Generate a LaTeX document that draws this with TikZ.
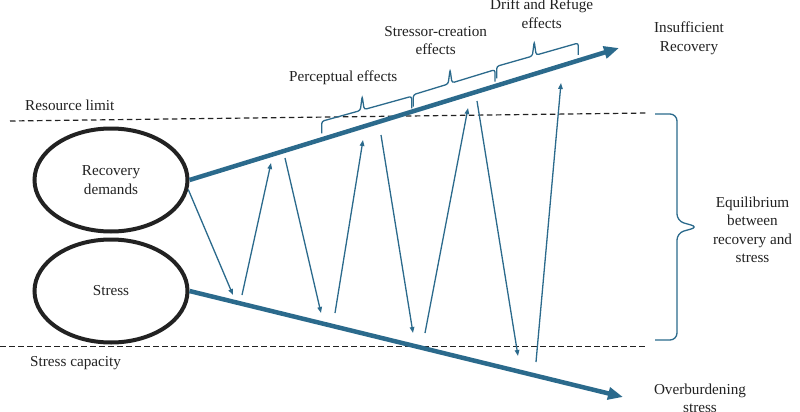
\documentclass[tikz,border=0pt]{standalone}
\usepackage{fontspec}
\setmainfont{Liberation Serif}
\usetikzlibrary{arrows.meta,shapes.geometric,calc}
\definecolor{steel}{HTML}{2B6A8C}
\definecolor{ink}{HTML}{222222}
% #1,#2 ends; #3 hook offset vector; #4 tip offset vector; #5 corner radius; #6 shoulder; #7 tip fraction
\newcommand\mybrace[7]{%
  \coordinate (bA) at ($(#1)+#3$);
  \coordinate (bB) at ($(#2)+#3$);
  \coordinate (bM) at ($(bA)!#7!(bB)$);
  \coordinate (bL) at ($(bM)!#6!(bA)$);
  \coordinate (bR) at ($(bM)!#6!(bB)$);
  \coordinate (bT) at ($(bM)+#4$);
  \draw[bracestyle, rounded corners=#5] (#1) -- (bA) -- (bL) -- (bT) -- (bR) -- (bB) -- (#2);
}
\begin{document}
\begin{tikzpicture}[x=1pt,y=-1pt,
  font=\fontsize{15.2}{18.3}\selectfont,
  tharrow/.style={draw=steel, line width=4.5pt, -{Triangle[length=15pt,width=12pt]}},
  thinarrow/.style={draw=steel, line width=1.3pt, -{Triangle[length=6pt,width=4.5pt]}},
  limitline/.style={draw=ink, line width=1.2pt, dash pattern=on 5.5pt off 3.5pt},
  bracestyle/.style={draw=steel, line width=1.3pt},
  ell/.style={ellipse, draw=ink, line width=4pt, minimum width=153pt, minimum height=103pt, inner sep=0pt, text=ink, align=center},
  lbl/.style={text=ink, align=center, inner sep=0pt}]
\useasboundingbox (0,0) rectangle (800,412);
\fill[white] (0,0) rectangle (800,412);

% limit lines
\coordinate (rl1) at (10,121);
\coordinate (rl2) at (648,113);
\coordinate (sc1) at (0,346.5);
\coordinate (sc2) at (645,346.5);
\draw[limitline] (rl1) -- (rl2);
\draw[limitline] (sc1) -- (sc2);

% ellipses
\node[ell] (rd) at (111,180) {Recovery\\demands};
\node[ell] (st) at (111,291) {Stress};

% main arrows
\coordinate (ir) at (619,48);
\coordinate (os) at (623,397);
\draw[tharrow] (rd.east) -- (ir);
\draw[tharrow] (st.east) -- (os);

% zigzag
\coordinate (z1e) at (233,295);
\coordinate (z2s) at (242,295); \coordinate (z2e) at (271,163);
\coordinate (z3s) at (285,158); \coordinate (z3e) at (321,313);
\coordinate (z4s) at (335,313); \coordinate (z4e) at (363,140);
\coordinate (z5s) at (381,135); \coordinate (z5e) at (413,333);
\coordinate (z6s) at (425,333); \coordinate (z6e) at (468,108);
\coordinate (z7s) at (477,101); \coordinate (z7e) at (518,356);
\coordinate (z8s) at (536,362); \coordinate (z8e) at (561,83);
\draw[thinarrow] (rd.-7.6) -- (z1e);
\draw[thinarrow] (z2s) -- (z2e);
\draw[thinarrow] (z3s) -- (z3e);
\draw[thinarrow] (z4s) -- (z4e);
\draw[thinarrow] (z5s) -- (z5e);
\draw[thinarrow] (z6s) -- (z6e);
\draw[thinarrow] (z7s) -- (z7e);
\draw[thinarrow] (z8s) -- (z8e);

% braces along the arrow
\coordinate (b1a) at (321.7,133.3); \coordinate (b1b) at (411.7,108.3);
\coordinate (b2a) at (413.3,106.7); \coordinate (b2b) at (495,81.7);
\coordinate (b3a) at (496.7,78.3);  \coordinate (b3b) at (578.3,55);
\mybrace{b1a}{b1b}{(0,-12)}{(0,-14)}{2.5pt}{2pt}{0.45}
\mybrace{b2a}{b2b}{(0,-12)}{(0,-14)}{2.5pt}{2pt}{0.45}
\mybrace{b3a}{b3b}{(0,-12)}{(0,-14)}{2.5pt}{2pt}{0.46}

% big brace
\coordinate (eqa) at (655,114);
\coordinate (eqb) at (655,340);
\mybrace{eqa}{eqb}{(22,0)}{(21,0)}{7pt}{6pt}{0.5}

% labels (anchor base = baseline of the last line)
\node[lbl, anchor=base west] (lrl) at (25,110.5) {Resource limit};
\node[lbl, anchor=base west] (lsc) at (30,366.7) {Stress capacity};
\node[lbl, anchor=base west] (lpe) at (289,81.7) {Perceptual effects};
\node[lbl, anchor=base] (lsce) at (435.7,55) {Stressor-creation\\effects};
\node[lbl, anchor=base] (ldr) at (541.7,28.3) {Drift and Refuge\\effects};
\node[lbl, anchor=base] (lir) at (689,51.3) {Insufficient\\Recovery};
\node[lbl, anchor=base] (leq) at (752.5,262.5) {Equilibrium\\between\\recovery and\\stress};
\node[lbl, anchor=base] (los) at (700,412.6) {Overburdening\\stress};
\end{tikzpicture}
\end{document}
